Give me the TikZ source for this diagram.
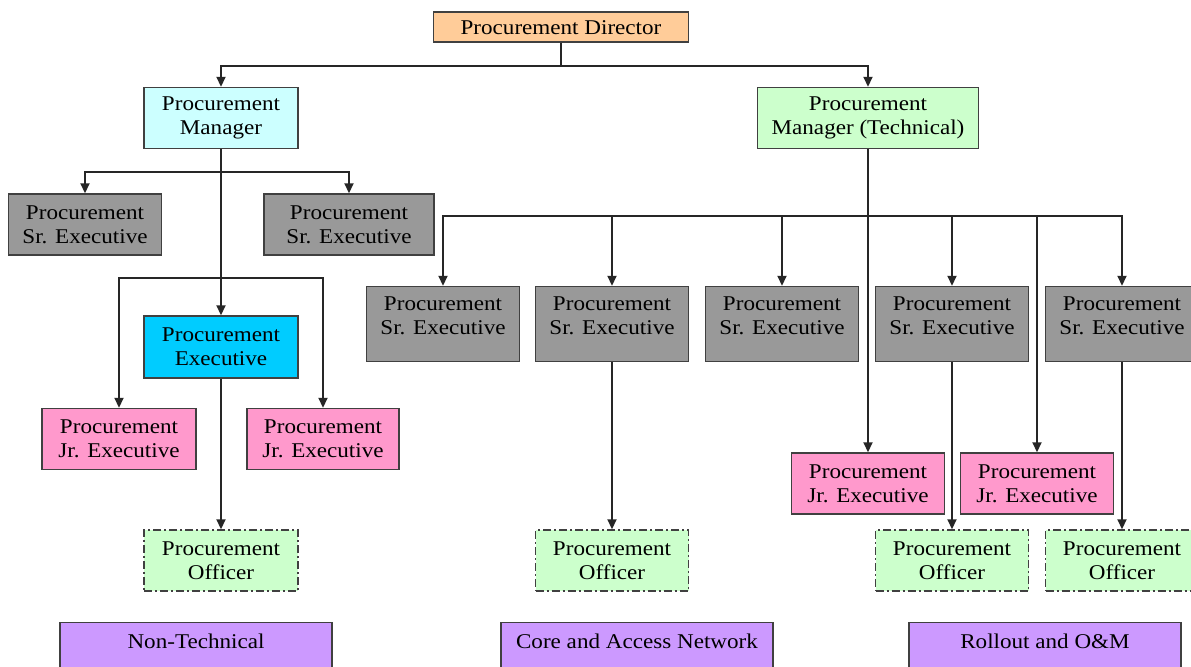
\documentclass[tikz,border=0pt]{standalone}
\usepackage{fontspec}
\setmainfont{Liberation Serif}[FakeStretch=1.1]
\usetikzlibrary{arrows.meta}

\definecolor{dirorange}{HTML}{FFCC99}
\definecolor{mgrcyan}{HTML}{CCFFFF}
\definecolor{techgreen}{HTML}{CCFFCC}
\definecolor{srgray}{HTML}{999999}
\definecolor{execblue}{HTML}{00CCFF}
\definecolor{jrpink}{HTML}{FF99CC}
\definecolor{deptpurple}{HTML}{CC99FF}
\definecolor{edgegray}{HTML}{404040}

\tikzset{
  box/.style={draw=edgegray, line width=0.7pt, align=center, inner sep=2pt,
    font=\fontsize{10.5}{12}\selectfont, minimum width=76.5pt, minimum height=30.5pt},
  dirbox/.style={box, fill=dirorange, minimum width=127.5pt, minimum height=15pt,
    text height=9pt, text depth=1pt},
  mgrbox/.style={box, fill=mgrcyan},
  techbox/.style={box, fill=techgreen, minimum width=110.5pt},
  srbox/.style={box, fill=srgray},
  srrow/.style={srbox, minimum height=37.5pt, text depth=8.5pt},
  execbox/.style={box, fill=execblue},
  jrbox/.style={box, fill=jrpink},
  offbox/.style={box, fill=techgreen, dash pattern=on 4pt off 1.5pt on 1pt off 1.5pt},
  deptbox/.style={box, fill=deptpurple, anchor=north, minimum width=136pt,
    minimum height=30pt, text height=7.5pt, text depth=11.5pt},
  arr/.style={draw=black!85, line width=0.9pt, -{Triangle[width=4.5pt,length=5pt]}},
  link/.style={draw=black!85, line width=0.9pt}
}

\begin{document}
\begin{tikzpicture}[x=0.5pt, y=-0.5pt]
\useasboundingbox[fill=white] (0,0) rectangle (1191,667);

\node[dirbox] (dir) at (561,27) {Procurement Director};
\node[mgrbox, minimum width=77pt] (pm) at (221,118) {Procurement\\Manager};
\node[techbox] (pmt) at (868,118) {Procurement\\Manager (Technical)};

\draw[arr] (dir.south) -- ++(0,23) -| (pm.north);
\draw[arr] (dir.south) -- ++(0,23) -| (pmt.north);

% non-technical branch
\node[srbox] (srA) at (85,224.5) {Procurement\\Sr. Executive};
\node[srbox, minimum width=85pt] (srB) at (349,224.5) {Procurement\\Sr. Executive};
\node[execbox, minimum width=77pt, minimum height=31pt] (exec) at (221,347) {Procurement\\Executive};
\node[jrbox, minimum width=77pt] (jrA) at (119,439) {Procurement\\Jr. Executive};
\node[jrbox, minimum width=76pt] (jrB) at (323,439) {Procurement\\Jr. Executive};
\node[offbox, minimum width=77pt] (offA) at (221,560.5) {Procurement\\Officer};

\coordinate (pmbus) at (221,172);
\coordinate (exbus) at (221,278);
\draw[arr] (pm.south) -- (exec.north);
\draw[arr] (pmbus) -| (srA.north);
\draw[arr] (pmbus) -| (srB.north);
\draw[arr] (exbus) -| (jrA.north);
\draw[arr] (exbus) -| (jrB.north);
\draw[arr] (exec.south) -- (offA.north);

% technical branch
\foreach \n/\x in {C/443, D/612, E/782, F/952, G/1122}
  \node[srrow] (sr\n) at (\x,324) {Procurement\\Sr. Executive};

\node[jrbox] (jrC) at (868,483.5) {Procurement\\Jr. Executive};
\node[jrbox] (jrD) at (1037,483.5) {Procurement\\Jr. Executive};

\foreach \n/\x in {B/612, C/952, D/1122}
  \node[offbox] (off\n) at (\x,560.5) {Procurement\\Officer};

\coordinate (tbus) at (868,216);
\draw[arr] (pmt.south) -- (jrC.north);
\foreach \n in {C,D,E,F,G}
  \draw[arr] (tbus) -| (sr\n.north);
\draw[arr] (tbus) -| (jrD.north);
\draw[arr] (srD.south) -- (offB.north);
\draw[arr] (srF.south) -- (offC.north);
\draw[arr] (srG.south) -- (offD.north);

% departments
\node[deptbox] (nt) at (196,622) {Non-Technical};
\node[deptbox] (can) at (637,622) {Core and Access Network};
\node[deptbox] (rom) at (1045,622) {Rollout and O\&M};

\end{tikzpicture}
\end{document}
